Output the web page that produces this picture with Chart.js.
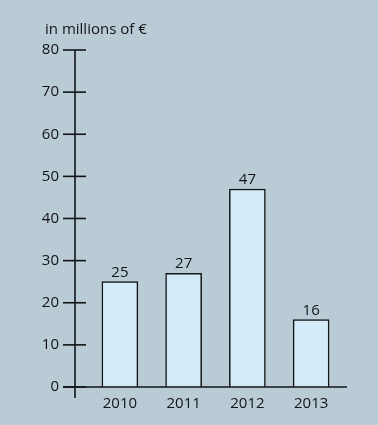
<!DOCTYPE html>
<html>
<head>
<meta charset="utf-8">
<script src="https://cdn.jsdelivr.net/npm/chart.js@4/dist/chart.umd.min.js"></script>
<style>
  html, body { margin: 0; padding: 0; background: #b9cbd5; }
  canvas { display: block; }
</style>
</head>
<body>
<canvas id="myChart" width="378" height="425"></canvas>
<script>
// data
const anios = ['2010', '2011', '2012', '2013'];
const montos = [25, 27, 47, 16];
const ticksY = [0, 10, 20, 30, 40, 50, 60, 70, 80];
const unidad = 'in millions of €';

const fuente = '"Open Sans", "Noto Sans", sans-serif';
const tinta = '#141414';

// axes are drawn by hand so they cross like in the print
const ejesPlugin = {
    id: 'ejes',
    afterDraw(chart) {
        const ctx = chart.ctx;
        const y = chart.scales.y;
        const x = chart.scales.x;
        const ejeX = 75;
        const cero = y.getPixelForValue(0);

        ctx.save();
        ctx.strokeStyle = tinta;
        ctx.lineWidth = 1.6;

        ctx.beginPath();
        ctx.moveTo(ejeX, y.getPixelForValue(ticksY[ticksY.length - 1]));
        ctx.lineTo(ejeX, cero + 11);
        ctx.stroke();

        ticksY.forEach(function (v) {
            const py = y.getPixelForValue(v);
            ctx.beginPath();
            ctx.moveTo(ejeX - 12, py);
            ctx.lineTo(ejeX + 11, py);
            ctx.stroke();
        });

        ctx.beginPath();
        ctx.moveTo(ejeX - 12, cero);
        ctx.lineTo(x.right + 4, cero);
        ctx.stroke();

        // value labels on top of the bars
        ctx.fillStyle = tinta;
        ctx.font = '15px ' + fuente;
        ctx.textAlign = 'center';
        ctx.textBaseline = 'alphabetic';
        const meta = chart.getDatasetMeta(0);
        meta.data.forEach(function (bar, i) {
            ctx.fillText(String(montos[i]), bar.x, bar.y - 5);
        });

        ctx.textAlign = 'left';
        ctx.textBaseline = 'middle';
        ctx.fillText(unidad, 45, 30);
        ctx.restore();
    }
};

const chart = new Chart(document.getElementById('myChart').getContext('2d'), {
    type: 'bar',
    data: {
        labels: anios,
        datasets: [
            {
                label: unidad,
                data: montos,
                backgroundColor: '#d3ebf9',
                borderColor: tinta,
                borderWidth: 1.5,
                borderSkipped: 'bottom',
                barThickness: 36,
            },
        ],
    },
    options: {
        responsive: false,
        devicePixelRatio: 1,
        animation: false,
        layout: {
            padding: { top: 50, right: 35, bottom: 0, left: 0 },
        },
        plugins: {
            legend: { display: false },
            tooltip: { enabled: false },
        },
        scales: {
            x: {
                grid: { display: false, drawTicks: false },
                border: { display: false },
                ticks: {
                    color: tinta,
                    font: { family: fuente, size: 15 },
                    padding: 8,
                    maxRotation: 0,
                },
                afterFit(scale) { scale.height = 38; },
            },
            y: {
                min: 0,
                max: 80,
                grid: { display: false, drawTicks: false },
                border: { display: false },
                ticks: {
                    stepSize: 10,
                    color: tinta,
                    font: { family: fuente, size: 15 },
                    padding: 29,
                },
                afterFit(scale) { scale.width = 88; },
            },
        },
    },
    plugins: [ejesPlugin],
});
</script>
</body>
</html>
